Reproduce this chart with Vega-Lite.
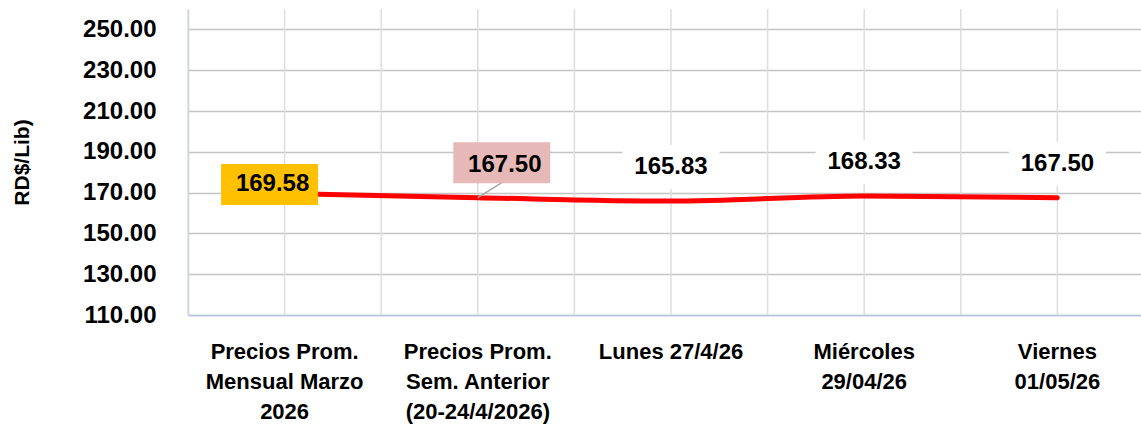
{
  "$schema": "https://vega.github.io/schema/vega-lite/v6.json",
  "width": 966,
  "height": 306,
  "autosize": "none",
  "padding": {"left": 188, "top": 9, "right": 0, "bottom": 112},
  "background": "white",
  "config": {"view": {"stroke": null}, "font": "Liberation Sans"},
  "data": {"values": [
    {"cat": "Precios Prom.|Mensual Marzo|2026", "price": 169.58},
    {"cat": "Precios Prom.|Sem. Anterior|(20-24/4/2026)", "price": 167.50},
    {"cat": "Lunes 27/4/26", "price": 165.83},
    {"cat": "Miércoles|29/04/26", "price": 168.33},
    {"cat": "Viernes|01/05/26", "price": 167.50}
  ]},
  "layer": [
    {
      "mark": {"type": "rule", "color": "#dedede", "strokeWidth": 1.5},
      "encoding": {"x": {"field": "cat", "type": "nominal", "sort": null, "bandPosition": 0.5, "scale": {"type": "band", "paddingInner": 0, "paddingOuter": 0}}}
    },
    {
      "mark": {"type": "rule", "color": "#dedede", "strokeWidth": 1.5},
      "encoding": {"x": {"field": "cat", "type": "nominal", "sort": null, "bandPosition": 0}}
    },
    {
      "mark": {"type": "line", "color": "#ff0000", "strokeWidth": 5, "interpolate": "monotone", "strokeCap": "round"},
      "encoding": {
        "x": {"field": "cat", "type": "nominal", "sort": null,
          "scale": {"type": "band", "paddingInner": 0, "paddingOuter": 0},
          "axis": {"title": null, "labelAngle": 0, "labelAlign": "center", "labelExpr": "split(datum.label, '|')", "labelFontSize": 22, "labelFontWeight": "bold", "labelColor": "#000000", "labelLineHeight": 30, "labelPadding": 26, "labelBaseline": "top", "ticks": false, "grid": false, "domainColor": "#b4c7e7", "domainWidth": 1.5, "labelLimit": 300}},
        "y": {"field": "price", "type": "quantitative",
          "scale": {"domain": [110, 260], "nice": false, "zero": false},
          "axis": {"title": "RD$/Lib)", "titleFontSize": 21, "titleFontWeight": "bold", "titleColor": "#000000", "titlePadding": 50,
            "values": [110, 130, 150, 170, 190, 210, 230, 250], "format": ".2f", "labelFontSize": 24, "labelFontWeight": "bold", "labelColor": "#000000", "labelPadding": 32, "ticks": false,
            "grid": true, "gridColor": "#c4c4c4", "gridWidth": 1.3, "domainColor": "#b4c7e7", "domainWidth": 1.5}}
      }
    },
    {
      "transform": [{"filter": {"field": "cat", "oneOf": ["Precios Prom.|Mensual Marzo|2026"]}}],
      "layer": [
        {"mark": {"type": "point", "shape": "M-48.5,-20.5h97v41h-97z", "size": 4, "filled": true, "fill": "#ffc000", "opacity": 1, "strokeWidth": 0, "xOffset": -15, "yOffset": -9}},
        {"mark": {"type": "text", "fontSize": 24, "fontWeight": "bold", "color": "#000000", "dx": -12, "dy": -9, "baseline": "middle"},
         "encoding": {"text": {"field": "price", "type": "quantitative", "format": ".2f"}}}
      ],
      "encoding": {"x": {"field": "cat", "type": "nominal", "sort": null}, "y": {"field": "price", "type": "quantitative"}}
    },
    {
      "transform": [{"filter": {"field": "cat", "oneOf": ["Precios Prom.|Sem. Anterior|(20-24/4/2026)"]}}],
      "layer": [
        {"mark": {"type": "point", "shape": "M0,0L24,-15", "size": 4, "filled": false, "stroke": "#a6a6a6", "strokeWidth": 1.5, "opacity": 1}},
        {"mark": {"type": "point", "shape": "M-48.5,-20.5h97v41h-97z", "size": 4, "filled": true, "fill": "#e6b9b8", "opacity": 1, "strokeWidth": 0, "xOffset": 24, "yOffset": -35}},
        {"mark": {"type": "text", "fontSize": 24, "fontWeight": "bold", "color": "#000000", "dx": 27, "dy": -33, "baseline": "middle"},
         "encoding": {"text": {"field": "price", "type": "quantitative", "format": ".2f"}}}
      ],
      "encoding": {"x": {"field": "cat", "type": "nominal", "sort": null}, "y": {"field": "price", "type": "quantitative"}}
    },
    {
      "transform": [{"filter": {"field": "cat", "oneOf": ["Lunes 27/4/26", "Miércoles|29/04/26", "Viernes|01/05/26"]}}],
      "layer": [
        {"mark": {"type": "point", "shape": "M-48.5,-22h97v44h-97z", "size": 4, "filled": true, "fill": "#ffffff", "opacity": 1, "strokeWidth": 0, "yOffset": -34}},
        {"mark": {"type": "text", "fontSize": 24, "fontWeight": "bold", "color": "#000000", "dy": -34, "baseline": "middle"},
         "encoding": {"text": {"field": "price", "type": "quantitative", "format": ".2f"}}}
      ],
      "encoding": {"x": {"field": "cat", "type": "nominal", "sort": null}, "y": {"field": "price", "type": "quantitative"}}
    }
  ]
}
